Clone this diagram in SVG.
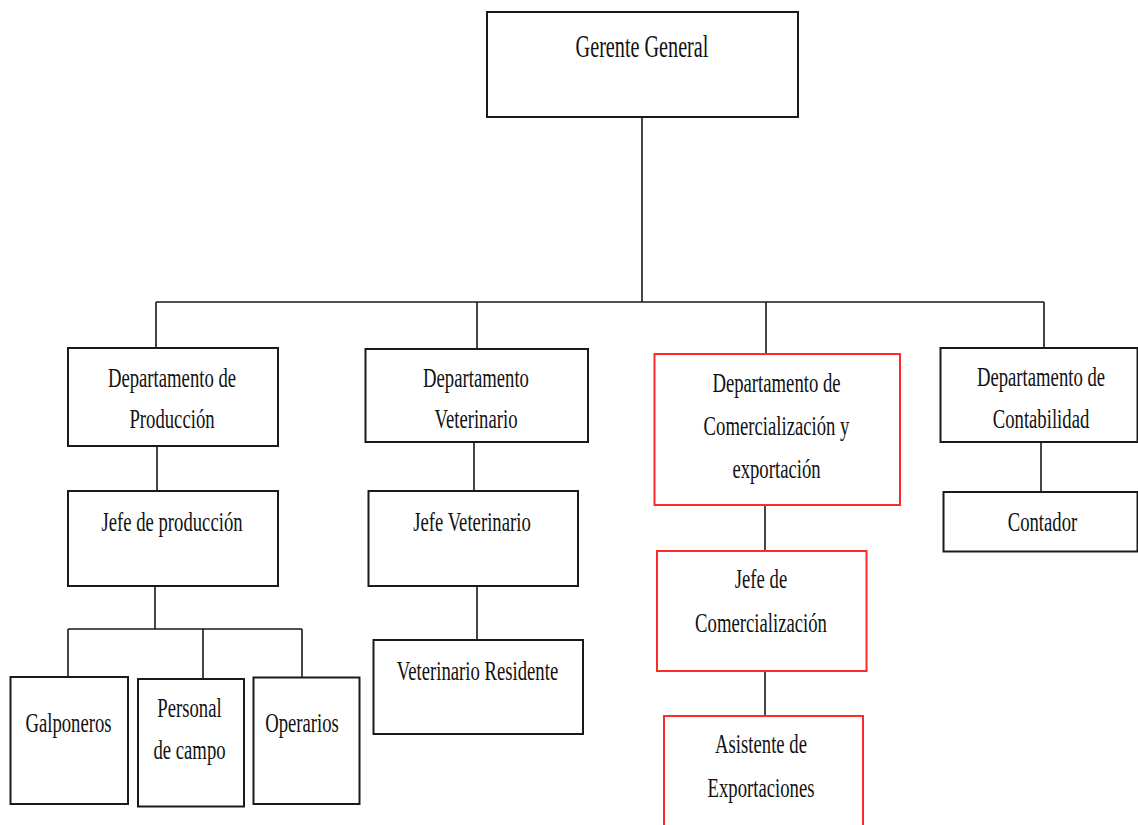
<svg xmlns="http://www.w3.org/2000/svg" width="1138" height="825" viewBox="0 0 1138 825">
<style>
.box{fill:#fff;stroke:#1a1a1a;stroke-width:2}
.red{fill:#fff;stroke:#ff2a2a;stroke-width:2}
.ln{stroke:#1a1a1a;stroke-width:1.6;fill:none}
text{font-family:"Liberation Serif","Times New Roman",serif;font-size:18.7px;fill:#111;text-anchor:middle}
.big{font-size:20.2px}
</style>
<rect width="1138" height="825" fill="#fff"/>
<g id="connectors">
<path class="ln" d="M642 117V302M156 302H1044M156 302V348M477 302V349M766 302V354M1044 302V348"/>
<path class="ln" d="M157 446V491M155 586V629M68 629H302M68 629V677M203 629V679M302 629V677"/>
<path class="ln" d="M474 442V491M477 586V640"/>
<path class="ln" d="M765 505V551M765 671V716"/>
<path class="ln" d="M1041 442V492"/>
</g>
<g id="gerente"><rect class="box" x="487" y="12" width="311" height="105"/><text class="big" transform="translate(642,56.7) scale(1,1.55)">Gerente General</text></g>
<g id="dep-produccion"><rect class="box" x="68" y="348" width="210" height="98"/><text transform="translate(172,386.7) scale(1,1.5)">Departamento de</text><text transform="translate(172,428.3) scale(1,1.5)">Producción</text></g>
<g id="dep-veterinario"><rect class="box" x="365.5" y="349" width="222.5" height="93"/><text transform="translate(476,386.7) scale(1,1.5)">Departamento</text><text transform="translate(476,428.3) scale(1,1.5)">Veterinario</text></g>
<g id="dep-comercializacion"><rect class="red" x="654.5" y="354" width="245.5" height="151"/><text transform="translate(776.5,391.7) scale(1,1.5)">Departamento de</text><text transform="translate(776.5,435) scale(1,1.5)">Comercialización y</text><text transform="translate(776.5,478.3) scale(1,1.5)">exportación</text></g>
<g id="dep-contabilidad"><rect class="box" x="940.5" y="348" width="197" height="94"/><text transform="translate(1041,385.5) scale(1,1.5)">Departamento de</text><text transform="translate(1041,428.3) scale(1,1.5)">Contabilidad</text></g>
<g id="jefe-produccion"><rect class="box" x="68" y="491" width="210" height="95"/><text transform="translate(172,530.7) scale(1,1.5)">Jefe de producción</text></g>
<g id="jefe-veterinario"><rect class="box" x="368.5" y="491" width="209.5" height="95"/><text transform="translate(472,530.7) scale(1,1.5)">Jefe Veterinario</text></g>
<g id="jefe-comercializacion"><rect class="red" x="657" y="551" width="209.5" height="120"/><text transform="translate(761,588.3) scale(1,1.5)">Jefe de</text><text transform="translate(761,631.7) scale(1,1.5)">Comercialización</text></g>
<g id="contador"><rect class="box" x="943.5" y="492" width="194" height="59.5"/><text transform="translate(1042.5,530.7) scale(1,1.5)">Contador</text></g>
<g id="galponeros"><rect class="box" x="10.5" y="677" width="117.5" height="127"/><text transform="translate(68.5,731.7) scale(1,1.5)">Galponeros</text></g>
<g id="personal-campo"><rect class="box" x="138" y="679" width="106" height="127.5"/><text transform="translate(189.5,716.7) scale(1,1.5)">Personal</text><text transform="translate(189.5,759.3) scale(1,1.5)">de campo</text></g>
<g id="operarios"><rect class="box" x="253.5" y="677.5" width="106" height="126.5"/><text transform="translate(302,731.7) scale(1,1.5)">Operarios</text></g>
<g id="veterinario-residente"><rect class="box" x="373.5" y="640" width="209.5" height="94"/><text transform="translate(477.5,680) scale(1,1.5)">Veterinario Residente</text></g>
<g id="asistente-exportaciones"><rect class="red" x="664" y="716" width="199" height="120"/><text transform="translate(761,753.3) scale(1,1.5)">Asistente de</text><text transform="translate(761,796.7) scale(1,1.5)">Exportaciones</text></g>
</svg>
